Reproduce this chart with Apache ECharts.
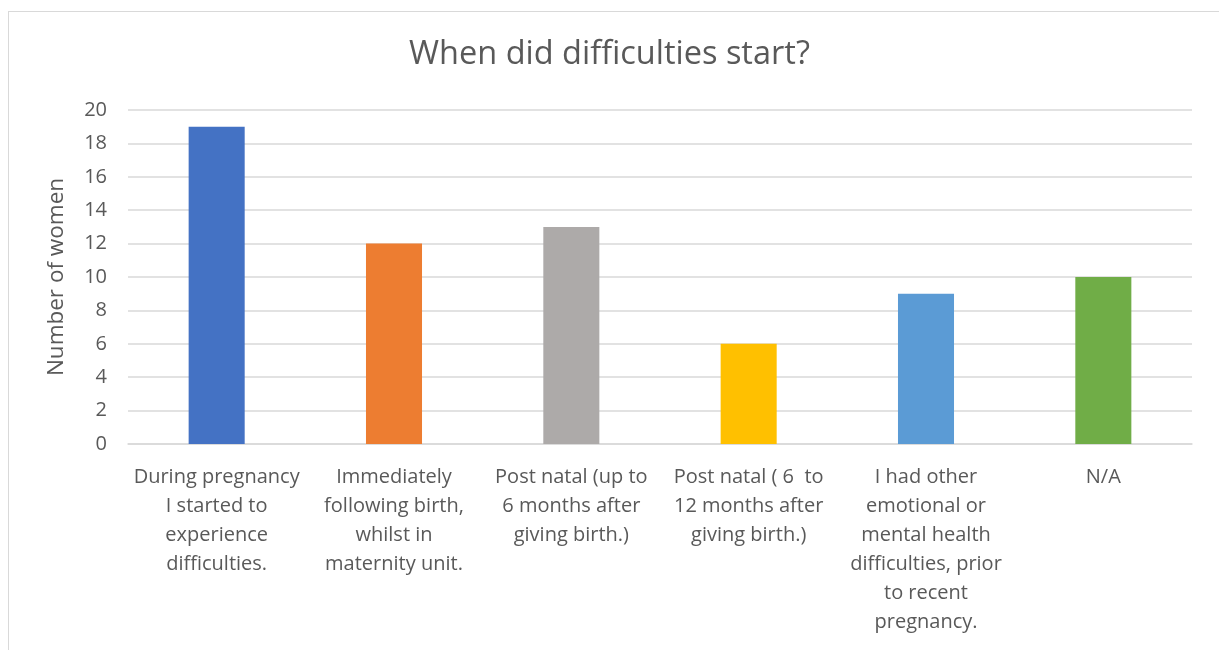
<!DOCTYPE html>
<html>
<head>
<meta charset="utf-8">
<script src="https://cdn.jsdelivr.net/npm/echarts@6/dist/echarts.min.js"></script>
<style>
    html, body { margin: 0; padding: 0; background: #fff; }
    #frame { position: absolute; left: 8px; top: 11px; width: 1400px; height: 800px; border: 1px solid #d9d9d9; }
    #chart { position: absolute; left: 0; top: 0; width: 1219px; height: 650px; }
</style>
</head>
<body>
<div id="frame"></div>
<div id="chart"></div>
<script>
    var categories = [
        'During pregnancy\nI started to\nexperience\ndifficulties.',
        'Immediately\nfollowing birth,\nwhilst in\nmaternity unit.',
        'Post natal (up to\n6 months after\ngiving birth.)',
        'Post natal ( 6  to\n12 months after\ngiving birth.)',
        'I had other\nemotional or\nmental health\ndifficulties, prior\nto recent\npregnancy.',
        'N/A'
    ];
    var women = [19, 12, 13, 6, 9, 10];
    var barColors = ['#4472C4', '#ED7D31', '#ADAAA9', '#FFC000', '#5B9BD5', '#70AD47'];

    var chart = echarts.init(document.getElementById('chart'));
    var font = '"Open Sans", Lato, sans-serif';

    var option = {
        animation: false,
        title: {
            text: 'When did difficulties start?',
            left: 'center',
            top: 33,
            textStyle: { fontFamily: font, fontSize: 32.5, fontWeight: 'normal', color: '#595959' }
        },
        grid: { left: 128, right: 27, top: 110, bottom: 206 },
        xAxis: {
            type: 'category',
            data: categories,
            axisLine: { lineStyle: { color: '#d9d9d9', width: 1.5 } },
            axisTick: { show: false },
            axisLabel: {
                interval: 0,
                margin: 19,
                fontFamily: font,
                fontSize: 20,
                lineHeight: 29,
                color: '#595959',
                align: 'center'
            }
        },
        yAxis: {
            type: 'value',
            min: 0,
            max: 20,
            interval: 2,
            name: 'Number of women',
            nameLocation: 'middle',
            nameGap: 60,
            nameTextStyle: { fontFamily: font, fontSize: 22.5, color: '#595959' },
            axisLine: { show: false },
            axisTick: { show: false },
            axisLabel: { fontFamily: font, fontSize: 20, color: '#595959', margin: 21 },
            splitLine: { lineStyle: { color: '#d9d9d9', width: 1.5 } }
        },
        series: [{
            type: 'bar',
            barWidth: '31.6%',
            data: women.map(function (v, i) {
                return { value: v, itemStyle: { color: barColors[i] } };
            })
        }]
    };
    chart.setOption(option);
</script>
</body>
</html>
